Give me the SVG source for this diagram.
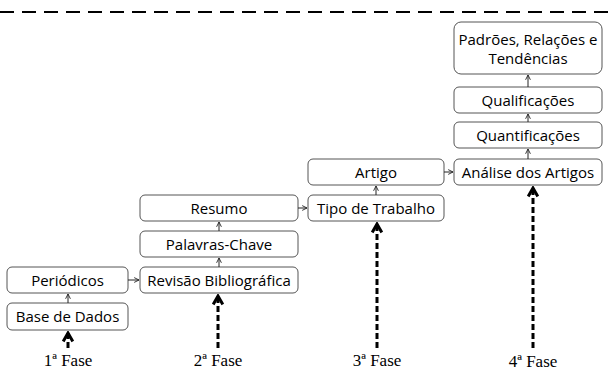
<svg xmlns="http://www.w3.org/2000/svg" width="609" height="384" viewBox="0 0 609 384">
<style>
.box rect{fill:#fff;stroke:#555;stroke-width:1}
.box text{font-family:"Open Sans","Liberation Sans",sans-serif;font-size:15px;fill:#000;text-anchor:middle}
.thin{stroke:#222;stroke-width:1;fill:none;marker-end:url(#open)}
.thick{stroke:#000;stroke-width:3;stroke-dasharray:6,3;fill:none;marker-end:url(#bold)}
.lbl{font-family:"Liberation Serif",serif;font-size:17px;fill:#000;text-anchor:middle}
</style>
<defs>
<marker id="open" viewBox="0 0 10 10" refX="9" refY="5" markerWidth="6" markerHeight="6" markerUnits="userSpaceOnUse" orient="auto">
<path d="M1,1 L9,5 L1,9" fill="none" stroke="#222" stroke-width="1.5"/>
</marker>
<marker id="bold" viewBox="0 0 10 10" refX="8" refY="5" markerWidth="4" markerHeight="4" orient="auto">
<path d="M1,1 L8,5 L1,9" fill="none" stroke="#000" stroke-width="2.5"/>
</marker>
</defs>
<line x1="0" y1="12" x2="609" y2="12" stroke="#000" stroke-width="2" stroke-dasharray="14,8"/>
<g id="base"><g class="box"><rect x="7" y="303" width="121" height="27" rx="5"/><text x="67.5" y="322">Base de Dados</text></g></g>
<g id="periodicos"><g class="box"><rect x="7" y="267" width="121" height="26" rx="5"/><text x="67.5" y="285.5">Periódicos</text></g></g>
<g id="revisao"><g class="box"><rect x="140" y="267" width="158" height="26" rx="5"/><text x="219" y="285.5">Revisão Bibliográfica</text></g></g>
<g id="palavras"><g class="box"><rect x="140" y="231" width="158" height="26" rx="5"/><text x="219" y="249.5">Palavras-Chave</text></g></g>
<g id="resumo"><g class="box"><rect x="140" y="195" width="158" height="26" rx="5"/><text x="219" y="213.5">Resumo</text></g></g>
<g id="tipo"><g class="box"><rect x="308" y="195" width="136" height="26" rx="5"/><text x="376" y="213.5">Tipo de Trabalho</text></g></g>
<g id="artigo"><g class="box"><rect x="308" y="159" width="136" height="26" rx="5"/><text x="376" y="177.5">Artigo</text></g></g>
<g id="analise"><g class="box"><rect x="454" y="159" width="148" height="26" rx="5"/><text x="528" y="177.5">Análise dos Artigos</text></g></g>
<g id="quant"><g class="box"><rect x="454" y="122" width="148" height="26" rx="5"/><text x="528" y="140.5">Quantificações</text></g></g>
<g id="qual"><g class="box"><rect x="454" y="87" width="148" height="26" rx="5"/><text x="528" y="105.5">Qualificações</text></g></g>
<g id="padroes"><g class="box"><rect x="454" y="22" width="148" height="52" rx="7"/><text x="528" y="45">Padrões, Relações e</text><text x="528" y="64">Tendências</text></g></g>
<g id="connectors">
<line class="thin" x1="68" y1="303" x2="68" y2="294"/>
<line class="thin" x1="128" y1="280" x2="139" y2="280"/>
<line class="thin" x1="219" y1="267" x2="219" y2="258"/>
<line class="thin" x1="219" y1="231" x2="219" y2="222"/>
<line class="thin" x1="298" y1="208" x2="307" y2="208"/>
<line class="thin" x1="376" y1="195" x2="376" y2="186"/>
<line class="thin" x1="444" y1="172" x2="453" y2="172"/>
<line class="thin" x1="528" y1="159" x2="528" y2="149"/>
<line class="thin" x1="528" y1="122" x2="528" y2="114"/>
<line class="thin" x1="528" y1="87" x2="528" y2="75"/>
<line class="thick" x1="68" y1="348" x2="68" y2="333"/>
<line class="thick" x1="218" y1="348" x2="218" y2="296"/>
<line class="thick" x1="377" y1="348" x2="377" y2="224"/>
<line class="thick" x1="533" y1="348" x2="533" y2="188"/>
</g>
<text class="lbl" x="68" y="366">1ª Fase</text>
<text class="lbl" x="218" y="366">2ª Fase</text>
<text class="lbl" x="377" y="366">3ª Fase</text>
<text class="lbl" x="533" y="367">4ª Fase</text>
</svg>
